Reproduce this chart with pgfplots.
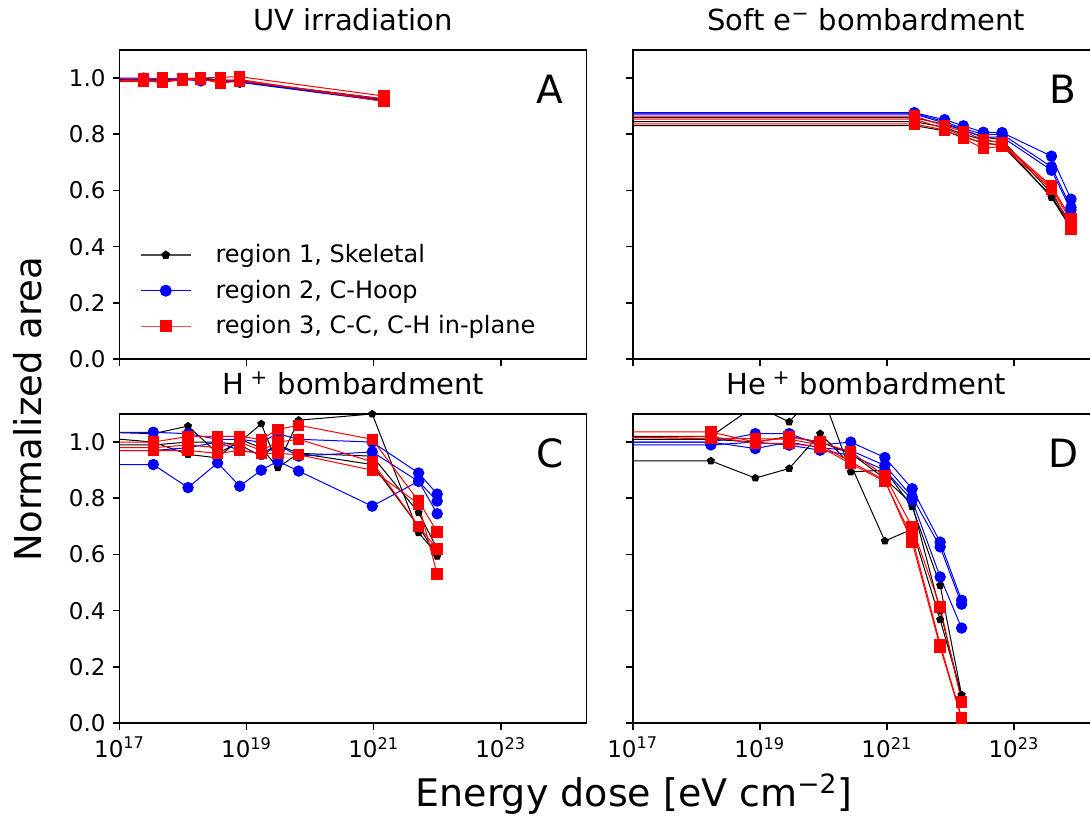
\documentclass[border=0pt]{standalone}
\usepackage{pgfplots}
\pgfplotsset{compat=1.18}
\usepackage{fontspec}
\setmainfont{DejaVu Sans}
\usetikzlibrary{plotmarks}
\pgfplotsset{
  kk/.style={black, line width=0.5pt, mark=pentagon*, mark size=1.8pt, mark options={solid, fill=black}, mark indices={1,2,3,4,5,6,7,8,9,10}, forget plot},
  bb/.style={blue, line width=0.5pt, mark=*, mark size=2.6pt, mark options={solid, fill=blue, draw=blue}, mark indices={1,2,3,4,5,6,7,8,9,10}, forget plot},
  rr/.style={red, line width=0.5pt, mark=square*, mark size=2.6pt, mark options={solid, fill=red, draw=red}, mark indices={1,2,3,4,5,6,7,8,9,10}, forget plot},
}
\newcommand{\pletter}[1]{\node[font=\fontsize{19.5}{22}\selectfont] at (rel axis cs:0.922,0.874) {#1};}
\begin{document}
\begin{tikzpicture}
\useasboundingbox (0,0) rectangle (545pt,-409pt);
\clip (0,0) rectangle (545pt,-409pt);
% ---------------- A ----------------
\begin{axis}[
    scale only axis, width=233.5pt, height=154.5pt,
    xmode=log, xmin=1e17, xmax=2.24e24, ymin=0, ymax=1.1,
    xtick={1e17,1e19,1e21,1e23}, xminorticks=false, yminorticks=false,
    ytick={0,0.2,0.4,0.6,0.8,1.0},
    tick align=outside, xtick pos=left, ytick pos=left,
    major tick length=3.5pt,
    axis line style={line width=0.8pt}, every tick/.style={black, line width=0.8pt},
    tick label style={font=\fontsize{11.5}{13}\selectfont},
    title style={font=\fontsize{14.5}{17}\selectfont},
    anchor=north west,
    xticklabels={}, yticklabels={0.0,0.2,0.4,0.6,0.8,1.0},
    at={(59.75pt,-25pt)}, title={UV irradiation},
  legend style={at={(0.043,0.385)}, anchor=north west, draw=none, fill=none, font=\fontsize{12}{14}\selectfont, row sep=3.2pt, column sep=10pt, inner sep=0pt},
  legend cell align=left,
  legend image code/.code={\draw[mark repeat=2,mark phase=2,#1] plot coordinates {(0pt,0pt) (12.5pt,0pt) (25pt,0pt)};}]
\addlegendimage{black!70, line width=0.8pt, mark=pentagon*, mark size=1.8pt, mark options={black, fill=black}}
\addlegendentry{region 1, Skeletal}
\addlegendimage{blue, line width=0.8pt, mark=*, mark size=2.6pt, mark options={blue, fill=blue}}
\addlegendentry{region 2, C-Hoop}
\addlegendimage{red!70, line width=0.8pt, mark=square*, mark size=2.6pt, mark options={red, fill=red}}
\addlegendentry{region 3, C-C, C-H in-plane}
\addplot[kk] coordinates {(1e16,0.997)(2.4e17,0.996)(4.8e17,0.993)(9.7e17,0.998)(1.9e18,1.0)(3.9e18,0.994)(7.8e18,0.99)(1.45e21,0.926)};
\addplot[kk] coordinates {(1e16,0.992)(2.4e17,0.99)(4.8e17,0.99)(9.7e17,0.995)(1.9e18,0.997)(3.9e18,0.99)(7.8e18,0.987)(1.45e21,0.92)};
\addplot[bb] coordinates {(1e16,0.998)(2.4e17,1.0)(4.8e17,0.996)(9.7e17,0.997)(1.9e18,0.995)(3.9e18,0.99)(7.8e18,0.989)(1.45e21,0.923)};
\addplot[bb] coordinates {(1e16,0.994)(2.4e17,0.995)(4.8e17,0.992)(9.7e17,0.996)(1.9e18,0.99)(3.9e18,0.992)(7.8e18,0.985)(1.45e21,0.918)};
\addplot[rr] coordinates {(1e16,1.0)(2.4e17,0.998)(4.8e17,1.0)(9.7e17,0.998)(1.9e18,1.0)(3.9e18,1.003)(7.8e18,1.005)(1.45e21,0.936)};
\addplot[rr] coordinates {(1e16,0.99)(2.4e17,0.99)(4.8e17,0.984)(9.7e17,0.995)(1.9e18,0.997)(3.9e18,0.982)(7.8e18,0.99)(1.45e21,0.925)};
\addplot[rr] coordinates {(1e16,0.986)(2.4e17,0.988)(4.8e17,0.99)(9.7e17,0.993)(1.9e18,0.995)(3.9e18,0.99)(7.8e18,0.995)(1.45e21,0.917)};
\pletter{A}
\end{axis}
% ---------------- B ----------------
\begin{axis}[
    scale only axis, width=233.5pt, height=154.5pt,
    xmode=log, xmin=1e17, xmax=2.24e24, ymin=0, ymax=1.1,
    xtick={1e17,1e19,1e21,1e23}, xminorticks=false, yminorticks=false,
    ytick={0,0.2,0.4,0.6,0.8,1.0},
    tick align=outside, xtick pos=left, ytick pos=left,
    major tick length=3.5pt,
    axis line style={line width=0.8pt}, every tick/.style={black, line width=0.8pt},
    tick label style={font=\fontsize{11.5}{13}\selectfont},
    title style={font=\fontsize{14.5}{17}\selectfont},
    anchor=north west,
    xticklabels={}, yticklabels={},
    at={(316.35pt,-25pt)}, title={Soft e\textsuperscript{−} bombardment}]
\addplot[kk] coordinates {(1e16,0.859)(2.7e21,0.859)(8.1e21,0.835)(1.6e22,0.815)(3.3e22,0.79)(6.5e22,0.78)(3.9e23,0.59)(7.9e23,0.48)};
\addplot[kk] coordinates {(1e16,0.845)(2.7e21,0.845)(8.1e21,0.825)(1.6e22,0.80)(3.3e22,0.78)(6.5e22,0.77)(3.9e23,0.575)(7.9e23,0.465)};
\addplot[kk] coordinates {(1e16,0.831)(2.7e21,0.831)(8.1e21,0.812)(1.6e22,0.79)(3.3e22,0.77)(6.5e22,0.76)(3.9e23,0.58)(7.9e23,0.47)};
\addplot[bb] coordinates {(1e16,0.877)(2.7e21,0.877)(8.1e21,0.852)(1.6e22,0.83)(3.3e22,0.807)(6.5e22,0.806)(3.9e23,0.722)(7.9e23,0.569)};
\addplot[bb] coordinates {(1e16,0.875)(2.7e21,0.875)(8.1e21,0.845)(1.6e22,0.82)(3.3e22,0.80)(6.5e22,0.80)(3.9e23,0.684)(7.9e23,0.54)};
\addplot[bb] coordinates {(1e16,0.872)(2.7e21,0.872)(8.1e21,0.84)(1.6e22,0.815)(3.3e22,0.79)(6.5e22,0.79)(3.9e23,0.672)(7.9e23,0.53)};
\addplot[rr] coordinates {(1e16,0.865)(2.7e21,0.865)(8.1e21,0.83)(1.6e22,0.81)(3.3e22,0.78)(6.5e22,0.77)(3.9e23,0.616)(7.9e23,0.50)};
\addplot[rr] coordinates {(1e16,0.854)(2.7e21,0.854)(8.1e21,0.82)(1.6e22,0.795)(3.3e22,0.765)(6.5e22,0.765)(3.9e23,0.61)(7.9e23,0.49)};
\addplot[rr] coordinates {(1e16,0.837)(2.7e21,0.837)(8.1e21,0.815)(1.6e22,0.785)(3.3e22,0.75)(6.5e22,0.757)(3.9e23,0.604)(7.9e23,0.463)};
\pletter{B}
\end{axis}
% ---------------- C ----------------
\begin{axis}[
    scale only axis, width=233.5pt, height=154.5pt,
    xmode=log, xmin=1e17, xmax=2.24e24, ymin=0, ymax=1.1,
    xtick={1e17,1e19,1e21,1e23}, xminorticks=false, yminorticks=false,
    ytick={0,0.2,0.4,0.6,0.8,1.0},
    tick align=outside, xtick pos=left, ytick pos=left,
    major tick length=3.5pt,
    axis line style={line width=0.8pt}, every tick/.style={black, line width=0.8pt},
    tick label style={font=\fontsize{11.5}{13}\selectfont},
    title style={font=\fontsize{14.5}{17}\selectfont},
    anchor=north west,
    xticklabels={10\textsuperscript{17},10\textsuperscript{19},10\textsuperscript{21},10\textsuperscript{23}},
    yticklabels={0.0,0.2,0.4,0.6,0.8,1.0},
    at={(59.75pt,-207pt)}, title={H\textsuperscript{ +} bombardment}]
\addplot[kk] coordinates {(1e16,1.04)(3.4e17,1.03)(1.2e18,1.057)(3.5e18,0.96)(7.8e18,1.0)(1.7e19,1.065)(3.1e19,0.92)(6.6e19,1.078)(9.5e20,1.10)(5.1e21,0.677)(1.0e22,0.60)};
\addplot[kk] coordinates {(1e16,1.03)(3.4e17,1.0)(1.2e18,0.956)(3.5e18,0.944)(7.8e18,1.01)(1.7e19,0.98)(3.1e19,0.909)(6.6e19,0.96)(9.5e20,0.95)(5.1e21,0.749)(1.0e22,0.62)};
\addplot[kk] coordinates {(1e16,0.99)(3.4e17,0.99)(1.2e18,1.0)(3.5e18,1.0)(7.8e18,0.99)(1.7e19,0.95)(3.1e19,0.99)(6.6e19,0.96)(9.5e20,0.92)(5.1e21,0.70)(1.0e22,0.594)};
\addplot[bb] coordinates {(1e16,1.035)(3.4e17,1.035)(1.2e18,1.03)(3.5e18,1.01)(7.8e18,1.01)(1.7e19,1.0)(3.1e19,1.03)(6.6e19,1.01)(9.5e20,1.0)(5.1e21,0.89)(1.0e22,0.815)};
\addplot[bb] coordinates {(1e16,0.97)(3.4e17,0.97)(1.2e18,0.98)(3.5e18,1.0)(7.8e18,0.97)(1.7e19,0.96)(3.1e19,0.99)(6.6e19,0.95)(9.5e20,0.965)(5.1e21,0.86)(1.0e22,0.79)};
\addplot[bb] coordinates {(1e16,0.92)(3.4e17,0.92)(1.2e18,0.838)(3.5e18,0.926)(7.8e18,0.843)(1.7e19,0.90)(3.1e19,0.932)(6.6e19,0.897)(9.5e20,0.772)(5.1e21,0.861)(1.0e22,0.745)};
\addplot[rr] coordinates {(1e16,1.0)(3.4e17,1.0)(1.2e18,1.02)(3.5e18,1.02)(7.8e18,1.02)(1.7e19,1.01)(3.1e19,1.045)(6.6e19,1.06)(9.5e20,1.01)(5.1e21,0.79)(1.0e22,0.68)};
\addplot[rr] coordinates {(1e16,0.98)(3.4e17,0.98)(1.2e18,0.99)(3.5e18,0.98)(7.8e18,1.0)(1.7e19,0.97)(3.1e19,1.0)(6.6e19,1.01)(9.5e20,0.93)(5.1e21,0.70)(1.0e22,0.62)};
\addplot[rr] coordinates {(1e16,0.97)(3.4e17,0.97)(1.2e18,0.97)(3.5e18,0.96)(7.8e18,0.97)(1.7e19,0.96)(3.1e19,0.96)(6.6e19,0.955)(9.5e20,0.90)(5.1e21,0.78)(1.0e22,0.53)};
\pletter{C}
\end{axis}
% ---------------- D ----------------
\begin{axis}[
    scale only axis, width=233.5pt, height=154.5pt,
    xmode=log, xmin=1e17, xmax=2.24e24, ymin=0, ymax=1.1,
    xtick={1e17,1e19,1e21,1e23}, xminorticks=false, yminorticks=false,
    ytick={0,0.2,0.4,0.6,0.8,1.0},
    tick align=outside, xtick pos=left, ytick pos=left,
    major tick length=3.5pt,
    axis line style={line width=0.8pt}, every tick/.style={black, line width=0.8pt},
    tick label style={font=\fontsize{11.5}{13}\selectfont},
    title style={font=\fontsize{14.5}{17}\selectfont},
    anchor=north west,
    xticklabels={10\textsuperscript{17},10\textsuperscript{19},10\textsuperscript{21},10\textsuperscript{23}},
    yticklabels={},
    at={(316.35pt,-207pt)}, title={He\textsuperscript{ +} bombardment}]
\addplot[kk] coordinates {(1e16,1.02)(1.7e18,1.02)(8.5e18,1.13)(2.9e19,1.072)(8.9e19,1.19)(2.7e20,0.894)(9.3e20,0.90)(2.5e21,0.77)(6.9e21,0.49)(1.5e22,0.10)};
\addplot[kk] coordinates {(1e16,0.933)(1.7e18,0.933)(8.5e18,0.872)(2.9e19,0.906)(8.9e19,1.03)(2.7e20,0.92)(9.3e20,0.648)(2.5e21,0.69)(6.9e21,0.368)(1.5e22,0.10)};
\addplot[kk] coordinates {(1e16,1.01)(1.7e18,1.01)(8.5e18,1.0)(2.9e19,1.02)(8.9e19,1.0)(2.7e20,0.96)(9.3e20,0.87)(2.5e21,0.78)(6.9e21,0.40)(1.5e22,0.09)};
\addplot[bb] coordinates {(1e16,1.0)(1.7e18,1.0)(8.5e18,1.03)(2.9e19,1.03)(8.9e19,0.99)(2.7e20,1.0)(9.3e20,0.945)(2.5e21,0.834)(6.9e21,0.644)(1.5e22,0.437)};
\addplot[bb] coordinates {(1e16,1.0)(1.7e18,1.0)(8.5e18,0.977)(2.9e19,1.0)(8.9e19,0.98)(2.7e20,0.97)(9.3e20,0.917)(2.5e21,0.805)(6.9e21,0.627)(1.5e22,0.423)};
\addplot[bb] coordinates {(1e16,0.99)(1.7e18,0.99)(8.5e18,1.0)(2.9e19,0.989)(8.9e19,0.971)(2.7e20,0.953)(9.3e20,0.90)(2.5e21,0.793)(6.9e21,0.52)(1.5e22,0.338)};
\addplot[rr] coordinates {(1e16,1.036)(1.7e18,1.036)(8.5e18,1.0)(2.9e19,1.018)(8.9e19,1.0)(2.7e20,0.965)(9.3e20,0.88)(2.5e21,0.698)(6.9e21,0.413)(1.5e22,0.075)};
\addplot[rr] coordinates {(1e16,1.02)(1.7e18,1.012)(8.5e18,1.012)(2.9e19,1.01)(8.9e19,0.99)(2.7e20,0.93)(9.3e20,0.864)(2.5e21,0.644)(6.9e21,0.27)(1.5e22,0.015)};
\addplot[rr] coordinates {(1e16,1.012)(1.7e18,1.02)(8.5e18,0.995)(2.9e19,0.995)(8.9e19,0.983)(2.7e20,0.923)(9.3e20,0.86)(2.5e21,0.66)(6.9e21,0.28)(1.5e22,0.02)};
\pletter{D}
\end{axis}
\node[rotate=90, font=\fontsize{18.5}{22}\selectfont] at (14pt,-204.5pt) {Normalized area};
\node[font=\fontsize{19}{22}\selectfont] at (317pt,-397pt) {Energy dose [eV cm\textsuperscript{−2}]};
\end{tikzpicture}
\end{document}
